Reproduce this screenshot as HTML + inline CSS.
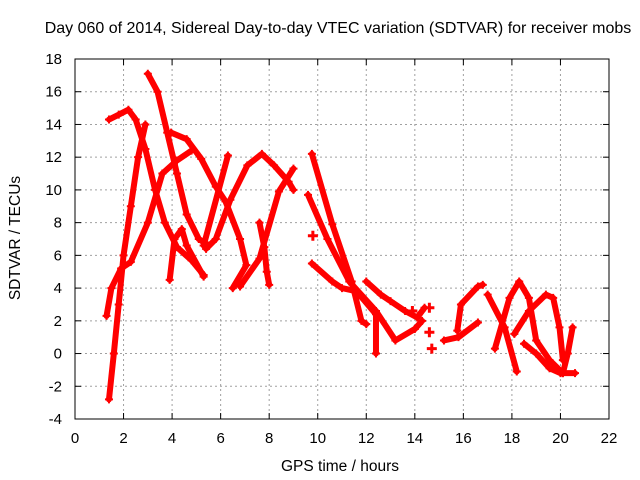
<!DOCTYPE html>
<html><head><meta charset="utf-8"><style>
body{margin:0;background:#fff}
svg{display:block;font-family:"Liberation Sans",sans-serif}
</style></head><body>
<svg id="chart" width="640" height="480"></svg>
<script>
const xTicks=[0,2,4,6,8,10,12,14,16,18,20,22];
const yTicks=[-4,-2,0,2,4,6,8,10,12,14,16,18];
const track1x=[1.4,1.6,1.8,2.0,2.3,2.6,2.9];
const track1y=[-2.8,0,3,6,9,12,14];
const track2x=[1.3,1.5,1.9,2.3,3.0,3.6,4.2,4.8];
const track2y=[2.3,4,5.2,5.6,8,11,11.8,12.4];
const track3x=[1.4,1.8,2.2,2.5,2.9,3.3,3.7,4.2,4.8,5.3];
const track3y=[14.3,14.6,14.9,14.3,12.5,10,8,6.5,5.7,4.8];
const track4x=[3.0,3.4,3.8,4.2,4.6,5.1,5.5];
const track4y=[17.1,16,13.5,11,8.5,7,6.6];
const track5x=[3.96,4.6,5.2,5.8,6.2,6.8,7.06,6.5];
const track5y=[13.5,13.1,11.9,10.2,9.3,7,5.4,4.0];
const track6x=[3.9,4.1,4.4,4.6,5.3];
const track6y=[4.5,7,7.6,6.6,4.7];
const track7x=[5.3,6.3];
const track7y=[6.6,12.1];
const track8x=[5.4,5.8,6.4,7.1,7.7,8.2,8.8,9.0];
const track8y=[6.4,7,9.4,11.5,12.2,11.5,10.5,10];
const track9x=[6.8,7.6,8.4,9.0];
const track9y=[4.1,5.8,9.9,11.3];
const track10x=[7.6,7.8,7.9,8.0];
const track10y=[8,6.5,5,4.2];
const track11x=[9.76,10.6,11.4,11.8,12.0];
const track11y=[12.2,7.9,4.4,2.0,1.8];
const track12x=[9.6,10.4,11.3,12.4,13.2,14.0,14.3];
const track12y=[9.7,7,4.4,2.6,0.8,1.5,2.0];
const track13x=[9.76,10.6,11.0,11.6,12.4,12.4];
const track13y=[5.5,4.4,4.0,3.8,2.4,0.0];
const track14x=[12.0,12.6,13.0,13.6,14.1,14.4];
const track14y=[4.4,3.6,3.2,2.6,2.2,2.8];
const track15x=[15.75,15.9,16.6,16.8];
const track15y=[1.4,3.0,4.1,4.2];
const track16x=[15.2,15.8,16.6];
const track16y=[0.8,1.0,1.9];
const track17x=[17.0,17.7,18.2];
const track17y=[3.6,1.6,-1.1];
const track18x=[17.3,17.9,18.3,18.7,19.0,19.55,20.1];
const track18y=[0.3,3.4,4.4,3.4,0.8,-0.4,-1.2];
const track19x=[18.1,18.7,19.4,19.7,19.96,20.1];
const track19y=[1.2,2.6,3.6,3.4,1.6,-0.4];
const track20x=[20.1,20.3,20.5];
const track20y=[-1.2,0,1.6];
const track21x=[18.5,19.0,19.55,20.0,20.6];
const track21y=[0.6,0.0,-0.9,-1.2,-1.2];
const dotsX=[9.8,14.6,14.6,14.7,13.9];
const dotsY=[7.2,2.8,1.3,0.3,2.6];
const tracksX=[track1x,track2x,track3x,track4x,track5x,track6x,track7x,track8x,track9x,track10x,track11x,track12x,track13x,track14x,track15x,track16x,track17x,track18x,track19x,track20x,track21x];
const tracksY=[track1y,track2y,track3y,track4y,track5y,track6y,track7y,track8y,track9y,track10y,track11y,track12y,track13y,track14y,track15y,track16y,track17y,track18y,track19y,track20y,track21y];

const L=75,R=609,T=59,B=419;
const sx=v=>L+(v-0)/22*(R-L);
const sy=v=>B-(v+4)/22*(B-T);
const svg=document.getElementById('chart');
const NS='http://www.w3.org/2000/svg';
function mk(tag,attrs,parent){const e=document.createElementNS(NS,tag);for(const k in attrs)e.setAttribute(k,attrs[k]);(parent||svg).appendChild(e);return e;}

xTicks.forEach(t=>{if(t>0&&t<22){const g=mk('line',{x1:sx(t),x2:sx(t),y1:T,y2:B,stroke:'#a0a0a0','stroke-dasharray':'2,3'});

}});
yTicks.forEach(t=>{if(t>-4&&t<18){const g=mk('line',{x1:L,x2:R,y1:sy(t),y2:sy(t),stroke:'#a0a0a0','stroke-dasharray':'2,3'});

}});

const gS=mk('g',{});


tracksX.forEach((xs,i)=>{
  const ys=tracksY[i];
  const pts=xs.map((x,j)=>sx(x)+','+sy(ys[j])).join(' ');
  const pl=mk('polyline',{points:pts,fill:'none',stroke:'#ff0000','stroke-width':6,'stroke-linejoin':'round','stroke-linecap':'round'},gS);
  
  
  xs.forEach((x,j)=>{
    const p=mk('path',{d:`M${sx(x)-4},${sy(ys[j])}h8M${sx(x)},${sy(ys[j])-4}v8`,stroke:'#ff0000','stroke-width':2},gS);
    
    
  });
});
dotsX.forEach((x,j)=>{
  const p=mk('path',{d:`M${sx(x)-5},${sy(dotsY[j])}h10M${sx(x)},${sy(dotsY[j])-5}v10`,stroke:'#ff0000','stroke-width':3},gS);
  
  
});

const fr=mk('rect',{x:L,y:T,width:R-L,height:B-T,fill:'none',stroke:'#000','stroke-width':1});



xTicks.forEach(t=>{
  const x=sx(t);
  mk('line',{x1:x,x2:x,y1:B,y2:B-6,stroke:'#000'});
  mk('line',{x1:x,x2:x,y1:T,y2:T+6,stroke:'#000'});
  const tx=mk('text',{x:x,y:B+24,'text-anchor':'middle','font-size':15,fill:'#000'});
  tx.textContent=t;
  
  
});
yTicks.forEach(t=>{
  const y=sy(t);
  mk('line',{x1:L,x2:L+6,y1:y,y2:y,stroke:'#000'});
  mk('line',{x1:R,x2:R-6,y1:y,y2:y,stroke:'#000'});
  const tx=mk('text',{x:L-13,y:y+5,'text-anchor':'end','font-size':15,fill:'#000'});
  tx.textContent=t;
  
  
});

const title=mk('text',{x:338,y:33,'text-anchor':'middle','font-size':16,fill:'#000'});
title.textContent='Day 060 of 2014, Sidereal Day-to-day VTEC variation (SDTVAR) for receiver mobs';


const xl=mk('text',{x:340,y:471,'text-anchor':'middle','font-size':15.5,fill:'#000'});
xl.textContent='GPS time / hours';


const yl=mk('text',{x:0,y:0,'text-anchor':'middle','font-size':15.5,fill:'#000',transform:'translate(20,238) rotate(-90)'});
yl.textContent='SDTVAR / TECUs';


</script>
</body></html>
